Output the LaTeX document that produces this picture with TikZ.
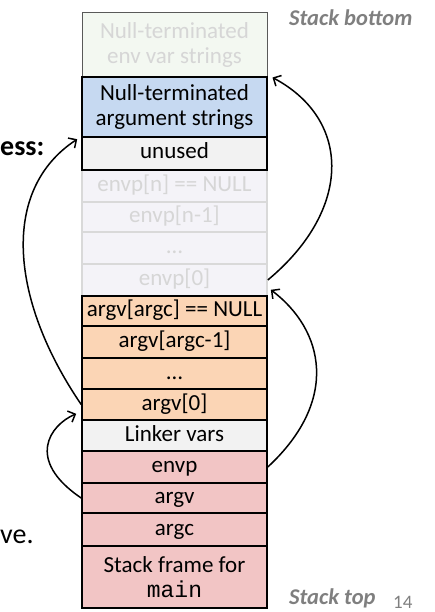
\documentclass[tikz,border=0pt]{standalone}
\usepackage{fontspec}
\setmainfont{Carlito}
\newfontfamily\monofont{Liberation Mono}
\usetikzlibrary{arrows.meta}
\definecolor{envstrfill}{HTML}{F3F8F1}
\definecolor{bluefill}{HTML}{C6D9F1}
\definecolor{greyfill}{HTML}{F2F2F2}
\definecolor{fadefill}{HTML}{F4F3F8}
\definecolor{fadetext}{HTML}{D6D6D6}
\definecolor{fadeline}{HTML}{D9D9D9}
\definecolor{orangefill}{HTML}{FBD5B5}
\definecolor{pinkfill}{HTML}{F2C5C5}
\definecolor{labelgrey}{HTML}{7F7F7F}
\begin{document}
\begin{tikzpicture}[x=1pt,y=-1pt,
  cell/.style={draw=black, line width=1.6pt, minimum width=185pt, inner sep=0pt,
    font=\fontsize{23}{25}\selectfont, align=center},
  one/.style={cell, text height=15.5pt, text depth=4.5pt},
  faded/.style={one, draw=fadeline, fill=fadefill, text=fadetext},
  conn/.style={line width=1.5pt, -{Straight Barb[length=6pt,width=12pt,line width=1.5pt]}},
  side/.style={font=\fontsize{22.5}{26}\selectfont\bfseries\itshape, text=labelgrey, inner sep=0pt},
  cut/.style={inner sep=0pt, font=\fontsize{28}{30}\selectfont}]
\useasboundingbox (0,0) rectangle (435,612);
% faded rows first
\node[cell, draw=black!65, line width=1pt, fill=envstrfill, text=fadetext, minimum height=64pt] (envstr) at (174.5,45) {Null-terminated\\env var strings};
\node[faded, minimum height=32pt] (envpn) at (174.5,186) {envp[n] == NULL};
\node[faded, minimum height=30pt] (envpn1) at (174.5,217) {envp[n-1]};
\node[faded, minimum height=32pt] (envpdots) at (174.5,248) {…};
\node[faded, minimum height=32pt] (envp0) at (174.5,280) {envp[0]};
% dark rows
\node[cell, fill=bluefill, minimum height=60pt] (argstr) at (174.5,107) {Null-terminated\\argument strings};
\node[one, fill=greyfill, minimum height=33pt] (unused) at (174.5,153.5) {unused};
\node[one, fill=orangefill, minimum height=30pt] (argvnull) at (174.5,311) {argv[argc] == NULL};
\node[one, fill=orangefill, minimum height=32pt] (argvc1) at (174.5,342) {argv[argc-1]};
\node[one, fill=orangefill, minimum height=31pt] (argvdots) at (174.5,373.5) {…};
\node[one, fill=orangefill, minimum height=31pt] (argv0) at (174.5,404.5) {argv[0]};
\node[one, fill=greyfill, minimum height=31pt] (linker) at (174.5,435.5) {Linker vars};
\node[one, fill=pinkfill, minimum height=32pt] (envp) at (174.5,467) {envp};
\node[one, fill=pinkfill, minimum height=30pt] (argv) at (174.5,498) {argv};
\node[one, fill=pinkfill, minimum height=33pt] (argc) at (174.5,529.5) {argc};
\node[cell, fill=pinkfill, minimum height=62pt] (frame) at (174.5,577) {Stack frame for\\{\monofont main}};
% labels
\node[side, anchor=base west] (bottom) at (289,26) {Stack bottom};
\node[side, anchor=base west] (top) at (289,604) {Stack top};
\node[inner sep=0pt, anchor=base west, text=labelgrey, font=\fontsize{19}{21}\selectfont] (page) at (393,608) {14};
\node[cut, anchor=base west, font=\fontsize{28}{30}\selectfont\bfseries] (ess) at (0,156) {ess:};
\node[cut, anchor=base west] (ve) at (0,543) {ve.};
% connectors
\draw[conn] (envp.east) .. controls (340,400) and (324,330) .. ([shift={(3,-7)}]envp0.south east);
\draw[conn] (envp0.east) .. controls (352,210) and (352,120) .. ([shift={(5,0)}]envstr.south east);
\draw[conn] (argv.west) .. controls (25,460) and (50,425) .. ([shift={(-5,-7)}]argv0.south west);
\draw[conn] (argv0.west) .. controls (10,300) and (0,190) .. ([shift={(-4,3)}]unused.north west);
\end{tikzpicture}
\end{document}
